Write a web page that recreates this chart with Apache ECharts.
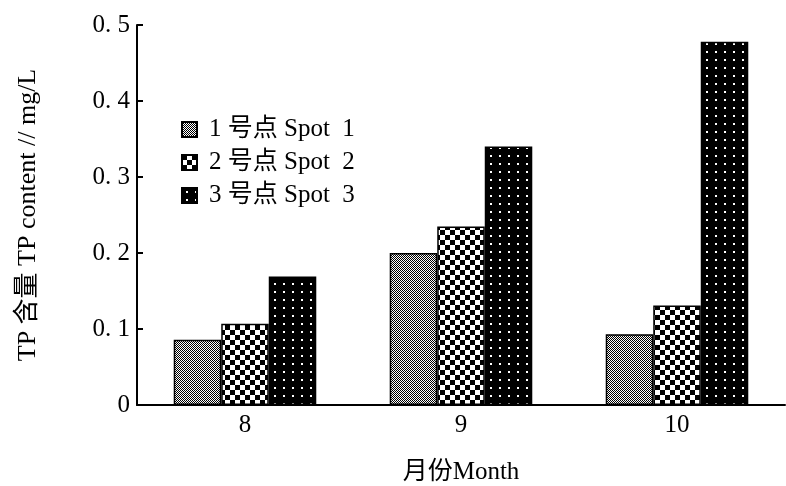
<!DOCTYPE html>
<html><head><meta charset="utf-8">
<script src="https://cdn.jsdelivr.net/npm/echarts@6/dist/echarts.min.js"></script>
<style>html,body{margin:0;padding:0;background:#fff}#c{width:786px;height:486px}</style>
</head><body><div id="c"></div>
<script>
const months = ['8', '9', '10'];
const seriesNames = ['1 号点 Spot  1', '2 号点 Spot  2', '3 号点 Spot  3'];
const spot1 = [0.086, 0.200, 0.093];
const spot2 = [0.107, 0.235, 0.131];
const spot3 = [0.169, 0.340, 0.478];
const yTicks = [0, 0.1, 0.2, 0.3, 0.4, 0.5];

function makePattern(kind) {
  const c = document.createElement('canvas');
  const ctx = c.getContext('2d');
  if (kind === 1) {
    c.width = 2; c.height = 2;
    ctx.fillStyle = '#fff'; ctx.fillRect(0, 0, 2, 2);
    ctx.fillStyle = '#000'; ctx.fillRect(0, 0, 1, 1); ctx.fillRect(1, 1, 1, 1);
  } else if (kind === 2) {
    c.width = 10; c.height = 10;
    ctx.fillStyle = '#fff'; ctx.fillRect(0, 0, 10, 10);
    ctx.fillStyle = '#000'; ctx.fillRect(0, 0, 5, 5); ctx.fillRect(5, 5, 5, 5);
  } else {
    c.width = 9; c.height = 8;
    ctx.fillStyle = '#000'; ctx.fillRect(0, 0, 9, 8);
    ctx.fillStyle = '#fff'; ctx.fillRect(4, 3, 2, 2);
  }
  return { image: c, repeat: 'repeat' };
}
const data = [spot1, spot2, spot3];
const font = "'Liberation Serif', 'Noto Sans CJK SC', serif";
const chart = echarts.init(document.getElementById('c'));
chart.setOption({
  animation: false,
  backgroundColor: '#fff',
  grid: { left: 137, right: 1, top: 25, bottom: 81, containLabel: false, outerBoundsMode: 'none' },
  legend: {
    orient: 'vertical', left: 176, top: 112,
    icon: 'rect',
    itemWidth: 15, itemHeight: 15, itemGap: 8,
    textStyle: { fontFamily: font, fontSize: 25, color: '#000', padding: [0, 0, 0, 7] },
    data: seriesNames
  },
  xAxis: {
    type: 'category', data: months,
    axisLine: { lineStyle: { color: '#000', width: 2 } },
    axisTick: { inside: true, length: 8, lineStyle: { color: '#000', width: 2 } },
    axisLabel: { fontFamily: font, fontSize: 25, color: '#000', margin: 8 },
    name: '月份Month', nameLocation: 'middle', nameGap: 55,
    nameTextStyle: { fontFamily: font, fontSize: 25, color: '#000' }
  },
  yAxis: {
    type: 'value', min: 0, max: 0.5, interval: 0.1,
    axisLine: { show: true, lineStyle: { color: '#000', width: 2 } },
    axisTick: { show: true, inside: true, length: 6, lineStyle: { color: '#000', width: 2 } },
    splitLine: { show: false },
    axisLabel: {
      fontFamily: font, fontSize: 25, color: '#000', margin: 7,
      formatter: v => { const t = yTicks.find(x => Math.abs(x - v) < 1e-9); return t === 0 ? '0' : (t !== undefined ? t.toFixed(1).replace('.', '. ') : ''); }
    },
    name: 'TP 含量 TP content // mg/L', nameLocation: 'middle', nameGap: 96,
    nameTextStyle: { fontFamily: font, fontSize: 26, color: '#000' }
  },
  series: seriesNames.map((n, i) => ({
    name: n, type: 'bar', data: data[i],
    barGap: '0%', barCategoryGap: '34%',
    itemStyle: { color: makePattern(i + 1), borderColor: '#000', borderWidth: 1.5 }
  }))
});
</script></body></html>
